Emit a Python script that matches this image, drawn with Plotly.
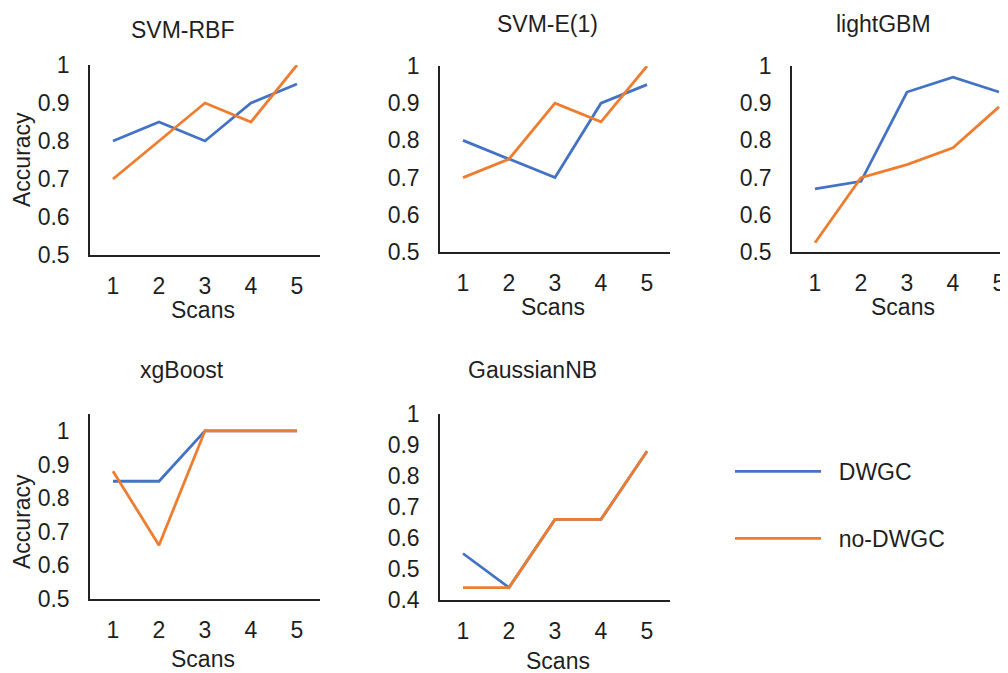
import plotly.graph_objects as go

scans = [1, 2, 3, 4, 5]
models = ["SVM-RBF", "SVM-E(1)", "lightGBM", "xgBoost", "GaussianNB"]
dwgc_svm_rbf = [0.80, 0.85, 0.80, 0.90, 0.95]
nodwgc_svm_rbf = [0.70, 0.80, 0.90, 0.85, 1.00]
dwgc_svm_e1 = [0.80, 0.75, 0.70, 0.90, 0.95]
nodwgc_svm_e1 = [0.70, 0.75, 0.90, 0.85, 1.00]
dwgc_lightgbm = [0.67, 0.69, 0.93, 0.97, 0.93]
nodwgc_lightgbm = [0.525, 0.70, 0.735, 0.78, 0.89]
dwgc_xgboost = [0.85, 0.85, 1.00, 1.00, 1.00]
nodwgc_xgboost = [0.88, 0.66, 1.00, 1.00, 1.00]
dwgc_gaussiannb = [0.55, 0.44, 0.66, 0.66, 0.88]
nodwgc_gaussiannb = [0.44, 0.44, 0.66, 0.66, 0.88]
series_names = ["DWGC", "no-DWGC"]

dwgc = [dwgc_svm_rbf, dwgc_svm_e1, dwgc_lightgbm, dwgc_xgboost, dwgc_gaussiannb]
nodwgc = [nodwgc_svm_rbf, nodwgc_svm_e1, nodwgc_lightgbm, nodwgc_xgboost, nodwgc_gaussiannb]

# page body has an 8px margin; the figure fills the rest of the 1008x673 window
OFF = 8
W, H = 1008 - OFF, 673 - OFF
BLUE = "#4472C4"
ORANGE = "#ED7D31"
FONT = "Liberation Sans, Arial, sans-serif"
TXT = "#1f1f1f"


def px(x):
    return (x - OFF) / W


def py(y):
    return 1 - (y - OFF) / H


# window-pixel boxes: (x0, x1, ytop, ybottom), y-range, x-range
boxes = [
    (90, 320, 65, 255, [0.5, 1.0], [0.5, 5.5]),
    (440, 670, 66, 252, [0.5, 1.0], [0.5, 5.5]),
    (792, 1008, 66, 252, [0.5, 1.0], [0.5, 0.5 + 216 / 46]),
    (90, 320, 414, 599, [0.5, 1.05], [0.5, 5.5]),
    (440, 670, 414, 600, [0.4, 1.0], [0.5, 5.5]),
]
yticks = [
    [0.5, 0.6, 0.7, 0.8, 0.9, 1.0],
    [0.5, 0.6, 0.7, 0.8, 0.9, 1.0],
    [0.5, 0.6, 0.7, 0.8, 0.9, 1.0],
    [0.5, 0.6, 0.7, 0.8, 0.9, 1.0],
    [0.4, 0.5, 0.6, 0.7, 0.8, 0.9, 1.0],
]

fig = go.Figure()
layout = {}
for i in range(5):
    sfx = "" if i == 0 else str(i + 1)
    x0, x1, yt, yb, yr, xr = boxes[i]
    fig.add_trace(go.Scatter(x=scans, y=dwgc[i], mode="lines", name=series_names[0],
                             line=dict(color=BLUE, width=2.8), xaxis="x" + sfx, yaxis="y" + sfx,
                             legendgroup="a", showlegend=(i == 0), cliponaxis=False))
    fig.add_trace(go.Scatter(x=scans, y=nodwgc[i], mode="lines", name=series_names[1],
                             line=dict(color=ORANGE, width=2.8), xaxis="x" + sfx, yaxis="y" + sfx,
                             legendgroup="b", showlegend=(i == 0), cliponaxis=False))
    layout["xaxis" + sfx] = dict(
        domain=[px(x0), min(1.0, px(x1))], range=xr, anchor="y" + sfx, automargin=False,
        tickvals=scans, ticktext=[str(s) for s in scans],
        showline=True, linecolor="#222", linewidth=1.5, showgrid=False, zeroline=False,
        ticks="", ticklabelstandoff=10,
        tickfont=dict(family=FONT, size=23, color=TXT),
    )
    layout["yaxis" + sfx] = dict(
        domain=[py(yb), py(yt)], range=yr, anchor="x" + sfx, automargin=False,
        tickvals=yticks[i], ticktext=[("1" if v == 1.0 else f"{v:.1f}") for v in yticks[i]],
        showline=True, linecolor="#222", linewidth=1.5, showgrid=False, zeroline=False,
        ticks="outside", ticklen=14, tickcolor="rgba(0,0,0,0)",
        tickfont=dict(family=FONT, size=23, color=TXT),
    )

annotations = []
title_pos = [(183, 30), (547, 24), (883, 24), (182, 370), (532, 370)]
for (cx, cy), m in zip(title_pos, models):
    annotations.append(dict(text=m, x=px(cx), y=py(cy), xref="paper", yref="paper",
                            showarrow=False, xanchor="center", yanchor="middle",
                            font=dict(family=FONT, size=23, color=TXT)))
scans_pos = [(203, 310), (553, 307), (903, 307), (203, 659), (558, 661)]
for cx, cy in scans_pos:
    annotations.append(dict(text="Scans", x=px(cx), y=py(cy), xref="paper", yref="paper",
                            showarrow=False, xanchor="center", yanchor="middle",
                            font=dict(family=FONT, size=23, color=TXT)))
for cy in (160, 522):
    annotations.append(dict(text="Accuracy", x=px(22), y=py(cy), xref="paper", yref="paper",
                            showarrow=False, xanchor="center", yanchor="middle", textangle=-90,
                            font=dict(family=FONT, size=23, color=TXT)))

fig.update_layout(
    width=W, height=H, margin=dict(l=0, r=0, t=0, b=0),
    paper_bgcolor="white", plot_bgcolor="white",
    showlegend=True,
    legend=dict(x=px(730), y=py(450), xanchor="left", yanchor="top",
                font=dict(family=FONT, size=23, color=TXT), itemwidth=86,
                tracegroupgap=34, bgcolor="rgba(0,0,0,0)"),
    annotations=annotations,
    **layout,
)
fig.data[0].name = "\u00a0\u00a0" + series_names[0]
fig.data[1].name = "\u00a0\u00a0" + series_names[1]
fig.write_html("out.html")
